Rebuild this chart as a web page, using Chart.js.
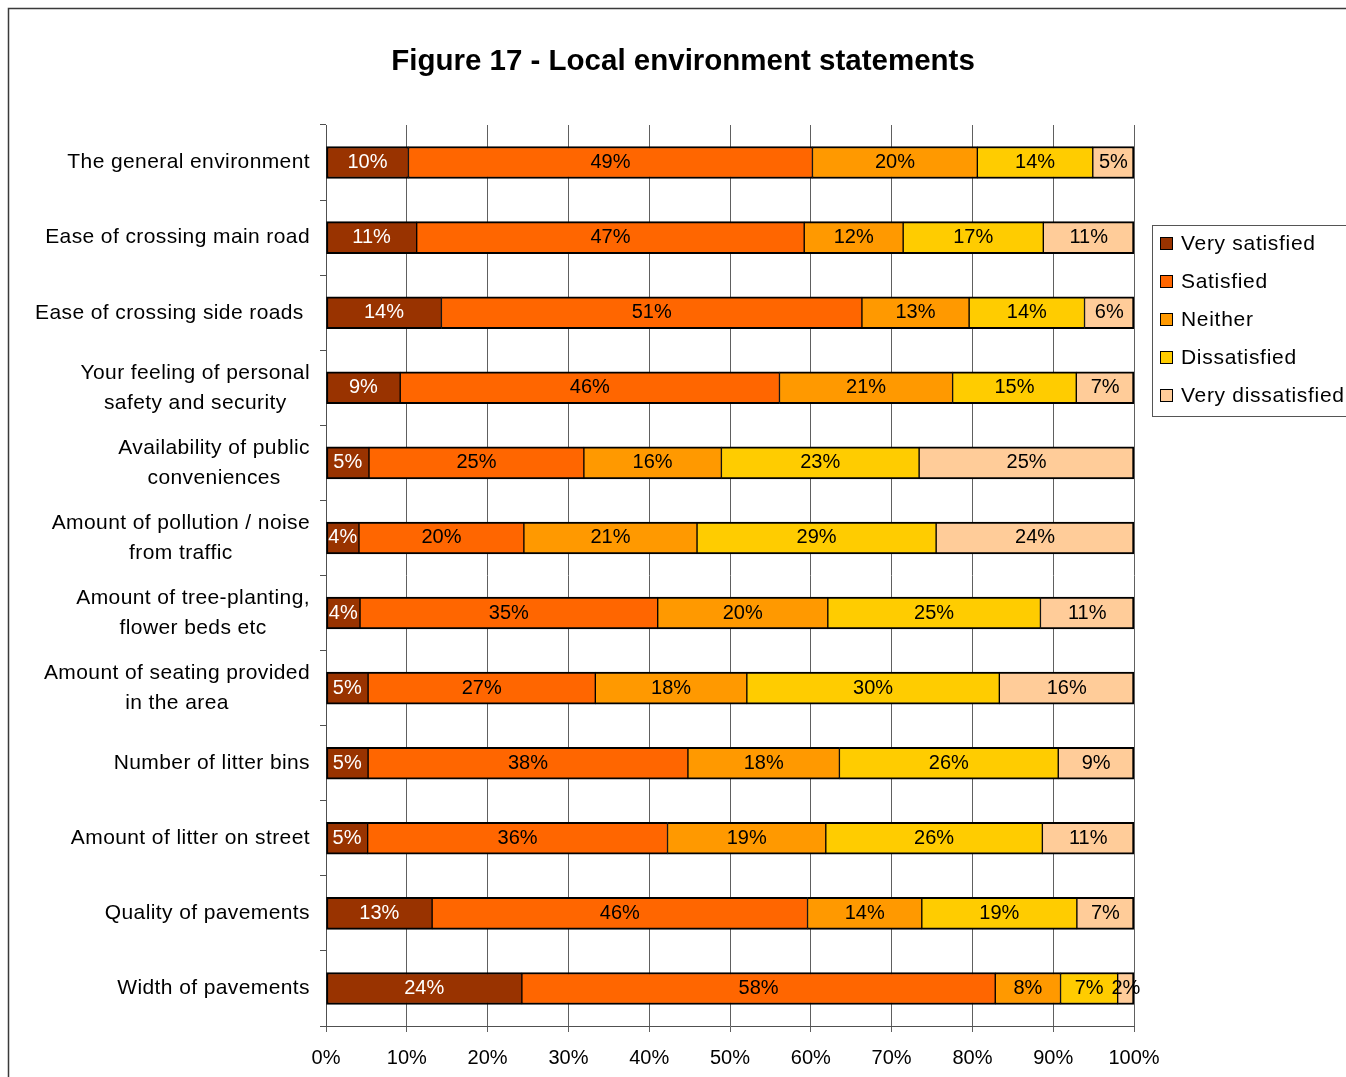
<!DOCTYPE html>
<html>
<head>
<meta charset="utf-8">
<title>Figure 17 - Local environment statements</title>
<script src="https://cdn.jsdelivr.net/npm/chart.js@4.4.1/dist/chart.umd.min.js"></script>
<style>
  html, body { margin: 0; padding: 0; background: #ffffff; overflow: hidden; }
  canvas { display: block; }
</style>
</head>
<body>
<canvas id="chart" width="1346" height="1077"></canvas>
<script>
// Survey statements (top to bottom)
const categories = [
  'The general environment',
  'Ease of crossing main road',
  'Ease of crossing side roads ',
  ['Your feeling of personal', 'safety and security'],
  ['Availability of public', 'conveniences'],
  ['Amount of pollution / noise', 'from traffic'],
  ['Amount of tree-planting,', 'flower beds etc'],
  ['Amount of seating provided', 'in the area'],
  'Number of litter bins',
  'Amount of litter on street',
  'Quality of pavements',
  'Width of pavements'
];

// Response shares (%), one array per answer
const verySatisfied    = [10, 11, 14,  9,  5,  4,  4,  5,  5,  5, 13, 24];
const satisfied        = [49, 47, 51, 46, 25, 20, 35, 27, 38, 36, 46, 58];
const neither          = [20, 12, 13, 21, 16, 21, 20, 18, 18, 19, 14,  8];
const dissatisfied     = [14, 17, 14, 15, 23, 29, 25, 30, 26, 26, 19,  7];
const veryDissatisfied = [ 5, 11,  6,  7, 25, 24, 11, 16,  9, 11,  7,  2];

const seriesNames = ['Very satisfied', 'Satisfied', 'Neither', 'Dissatisfied', 'Very dissatisfied'];
const seriesValues = [verySatisfied, satisfied, neither, dissatisfied, veryDissatisfied];
const seriesColors = ['#993300', '#FF6600', '#FF9900', '#FFCC00', '#FFCC99'];
const labelColors  = ['#ffffff', '#000000', '#000000', '#000000', '#000000'];

// X axis tick values
const xTicks = [0, 10, 20, 30, 40, 50, 60, 70, 80, 90, 100];

const FONT = "'Liberation Sans', Arial, sans-serif";

// 100% stacked: each row is scaled to its own total
const rowTotals = categories.map((_, i) => seriesValues.reduce((s, arr) => s + arr[i], 0));

const datasets = seriesNames.map((name, d) => ({
  label: name,
  data: seriesValues[d].map((v, i) => v / rowTotals[i] * 100),
  raw: seriesValues[d],
  backgroundColor: seriesColors[d],
  borderColor: '#000000',
  borderWidth: { top: 2, bottom: 2, left: d === 0 ? 2 : 1, right: d === seriesNames.length - 1 ? 2 : 1 },
  borderSkipped: false,
  barThickness: 32
}));

const pagePlugin = {
  id: 'pageDecor',
  beforeDraw(chart) {
    const ctx = chart.ctx;
    ctx.save();
    ctx.fillStyle = '#ffffff';
    ctx.fillRect(0, 0, chart.width, chart.height);
    ctx.strokeStyle = '#3a3a3a';
    ctx.lineWidth = 1.5;
    ctx.beginPath();
    ctx.moveTo(8.5, chart.height + 2);
    ctx.lineTo(8.5, 8.5);
    ctx.lineTo(chart.width + 2, 8.5);
    ctx.stroke();
    // title
    ctx.fillStyle = '#000000';
    ctx.font = 'bold 29.5px ' + FONT;
    ctx.textAlign = 'center';
    ctx.textBaseline = 'middle';
    ctx.fillText('Figure 17 - Local environment statements', 683, 62);
    ctx.restore();
  },
  afterDatasetsDraw(chart) {
    const ctx = chart.ctx;
    ctx.save();
    ctx.font = '20px ' + FONT;
    ctx.textAlign = 'center';
    ctx.textBaseline = 'middle';
    chart.data.datasets.forEach((ds, d) => {
      const meta = chart.getDatasetMeta(d);
      meta.data.forEach((bar, i) => {
        ctx.fillStyle = labelColors[d];
        ctx.fillText(ds.raw[i] + '%', (bar.x + bar.base) / 2, bar.y);
      });
    });
    ctx.restore();
  },
  afterDraw(chart) {
    const ctx = chart.ctx;
    const yScale = chart.scales.y;
    ctx.save();
    // category labels, lines centred within a right-aligned block
    ctx.font = '21px ' + FONT;
    ctx.letterSpacing = '0.4px';
    ctx.fillStyle = '#000000';
    ctx.textAlign = 'center';
    ctx.textBaseline = 'middle';
    categories.forEach((c, i) => {
      const lines = Array.isArray(c) ? c : [c];
      const maxW = Math.max(...lines.map(l => ctx.measureText(l).width));
      const cx = 310 - maxW / 2;
      const yc = yScale.getPixelForValue(i);
      lines.forEach((l, k) => {
        ctx.fillText(l, cx, yc + (k - (lines.length - 1) / 2) * 30);
      });
    });
    // legend
    ctx.strokeStyle = '#555555';
    ctx.lineWidth = 1;
    ctx.strokeRect(1152.5, 225.5, 260, 191);
    ctx.textAlign = 'left';
    ctx.letterSpacing = '0.7px';
    seriesNames.forEach((name, d) => {
      const yc = 243 + d * 38;
      ctx.fillStyle = seriesColors[d];
      ctx.fillRect(1160, yc - 6, 12, 12);
      ctx.strokeStyle = '#000000';
      ctx.strokeRect(1160.5, yc - 5.5, 12, 12);
      ctx.fillStyle = '#000000';
      ctx.fillText(name, 1181, yc + 1);
    });
    ctx.restore();
  }
};

new Chart(document.getElementById('chart'), {
  type: 'bar',
  data: {
    labels: categories.map(c => Array.isArray(c) ? c.join(' ') : c),
    datasets: datasets
  },
  options: {
    indexAxis: 'y',
    responsive: false,
    animation: false,
    devicePixelRatio: 1,
    layout: { padding: { left: 306, right: 212, top: 125, bottom: 1 } },
    plugins: {
      legend: { display: false },
      title: { display: false },
      tooltip: { enabled: false }
    },
    scales: {
      x: {
        stacked: true,
        min: 0,
        max: 100,
        afterBuildTicks(scale) { scale.ticks = xTicks.map(v => ({ value: v })); },
        ticks: {
          callback: v => v + '%',
          font: { family: FONT, size: 20 },
          color: '#000000',
          padding: 14,
          maxRotation: 0
        },
        grid: { color: '#606060', lineWidth: 1, tickLength: 6, drawTicks: true },
        border: { display: true, color: '#505050', width: 1 },
        afterFit(scale) { scale.height = 50; }
      },
      y: {
        stacked: true,
        ticks: { display: false },
        grid: { drawOnChartArea: false, drawTicks: true, tickLength: 6, color: '#505050', offset: true },
        border: { display: true, color: '#505050', width: 1 },
        afterFit(scale) { scale.width = 20; }
      }
    }
  },
  plugins: [pagePlugin]
});
</script>
</body>
</html>
